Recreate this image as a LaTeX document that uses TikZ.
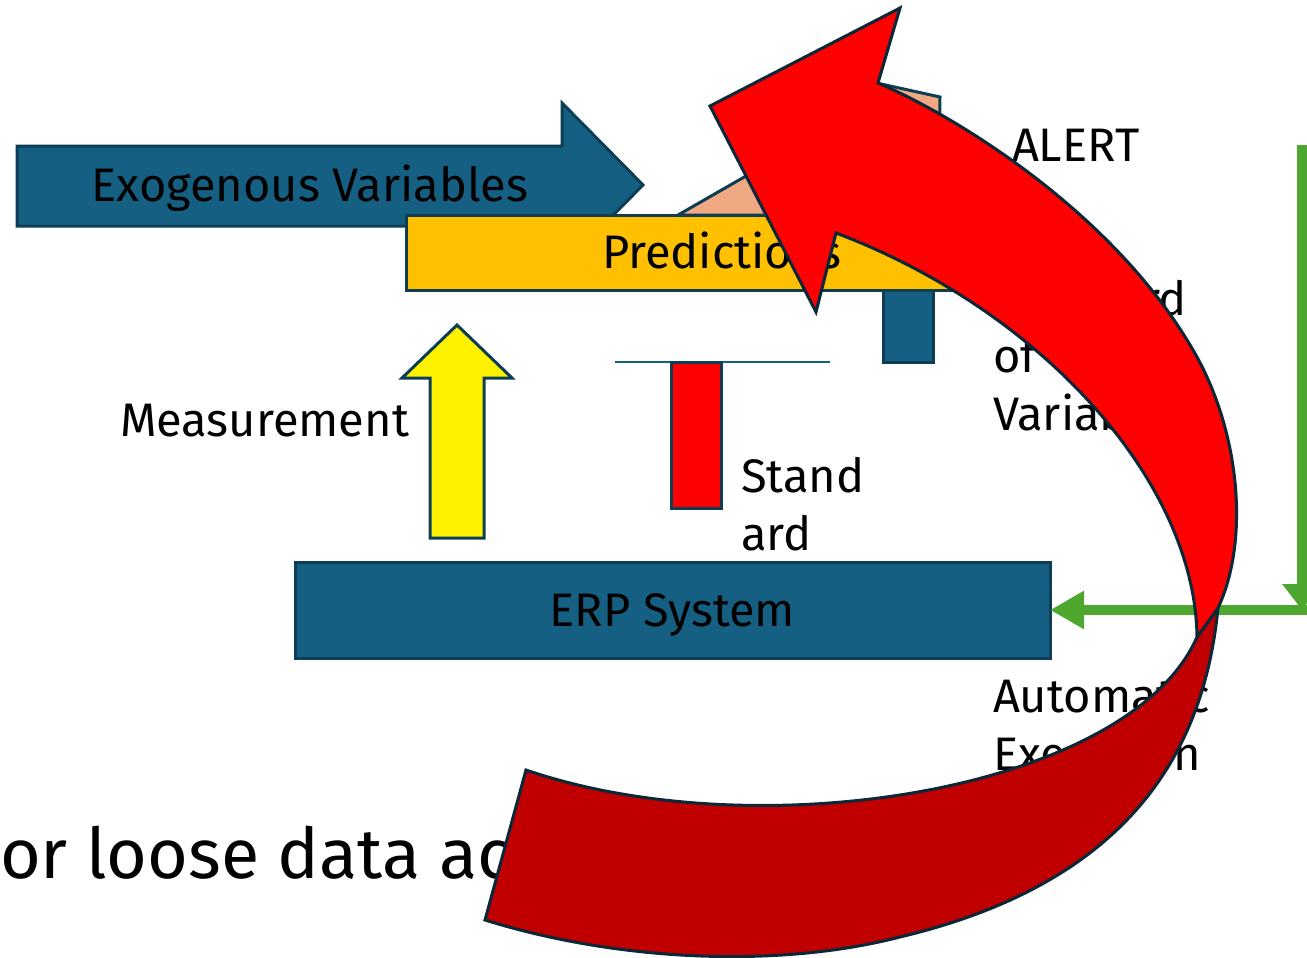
\documentclass[tikz,border=0pt]{standalone}
\usepackage{fontspec}
\setmainfont{Fira Sans}
\usetikzlibrary{arrows.meta}
\begin{document}
\begin{tikzpicture}[x=1pt,y=-1pt,
  blk/.style={draw=edgeColor,line width=3pt,line join=miter},
  bar/.style={blk,rectangle,inner sep=0pt,outer sep=0pt,text=black,
    font=\fontsize{47}{57.5}\selectfont,text height=32pt,text depth=0pt},
  lbl/.style={text=black,inner sep=0pt,outer sep=0pt,align=left,
    font=\fontsize{47}{57.5}\selectfont},
  feed/.style={draw=greenColor,line width=10pt,-{Triangle[length=34pt,width=36pt]}}]
\definecolor{tealColor}{RGB}{21,96,130}
\definecolor{edgeColor}{RGB}{14,62,86}
\definecolor{redEdge}{RGB}{10,40,55}
\definecolor{peachColor}{RGB}{241,169,131}
\definecolor{amberColor}{RGB}{255,192,0}
\definecolor{greenColor}{RGB}{78,167,46}
\definecolor{darkRed}{RGB}{192,0,0}

\path[use as bounding box,fill=white] (0,0) rectangle (1307,958);

\path[blk,fill=tealColor] (17,146) -- (562,146) -- (562,103) -- (643,185) -- (562,267) -- (562,226) -- (17,226) -- cycle;
\node[lbl,anchor=base] (exo) at (310,201) {Exogenous Variables};

\path[blk,fill=peachColor] (678,215) -- (760,168) -- (872,82) -- (940,97) -- (938,215) -- cycle;
\node[bar,fill=amberColor,minimum width=632pt,minimum height=75pt] (pred) at (722,252.5) {Predictions};
\node[bar,fill=tealColor,minimum width=50pt,minimum height=72pt] (dev) at (908,326) {};

\coordinate (normL) at (615,362);
\coordinate (normR) at (830,362);
\draw[draw=tealColor,line width=2pt] (normL) -- (normR);
\node[bar,fill=red,minimum width=50pt,minimum height=146pt] (std) at (696,435) {};
\node[lbl,anchor=base west] (stdtxt) at (741,550) {Stand\\ard};

\path[blk,fill=yellow] (430,538) -- (430,378) -- (402,378) -- (457,325) -- (512,378) -- (484,378) -- (484,538) -- cycle;
\node[lbl,anchor=base east] (meas) at (409,436) {Measurement};

\node[bar,fill=tealColor,minimum width=755pt,minimum height=96pt] (erp) at (672.5,610) {ERP System};

\node[lbl,anchor=base west] (alert) at (1012,161) {ALERT};
\node[lbl,anchor=base west] (var) at (993,430) {Standard\\of\\Variables};
\node[lbl,anchor=base west] (auto) at (993,770) {Automatic\\Execution};
\node[lbl,anchor=base west,font=\fontsize{70}{80}\selectfont] (loose) at (0,878) {or loose data acquisition};

\coordinate (gtop) at (1302,145);
\coordinate (gknee) at (1302,610);
\draw[feed,-{Triangle[length=26pt,width=38pt]}] (gtop) -- (gknee);
\draw[feed,shorten <=-6pt] (gknee) -- (erp.east);

\path[blk,draw=redEdge,fill=darkRed] (1218,608) .. controls (1205,740) and (1140,880) .. (900,937) .. controls (780,968) and (620,962) .. (485,920) -- (526,770) .. controls (760,850) and (1130,790) .. (1197,637) -- cycle;
\path[blk,draw=redEdge,fill=red] (836,233) -- (816,312) -- (710,106) -- (900,8) -- (878,83) .. controls (960,118) and (1115,215) .. (1193,350) .. controls (1240,430) and (1250,540) .. (1218,608) -- (1197,637) .. controls (1195,480) and (1040,310) .. (836,233) -- cycle;
\end{tikzpicture}
\end{document}
